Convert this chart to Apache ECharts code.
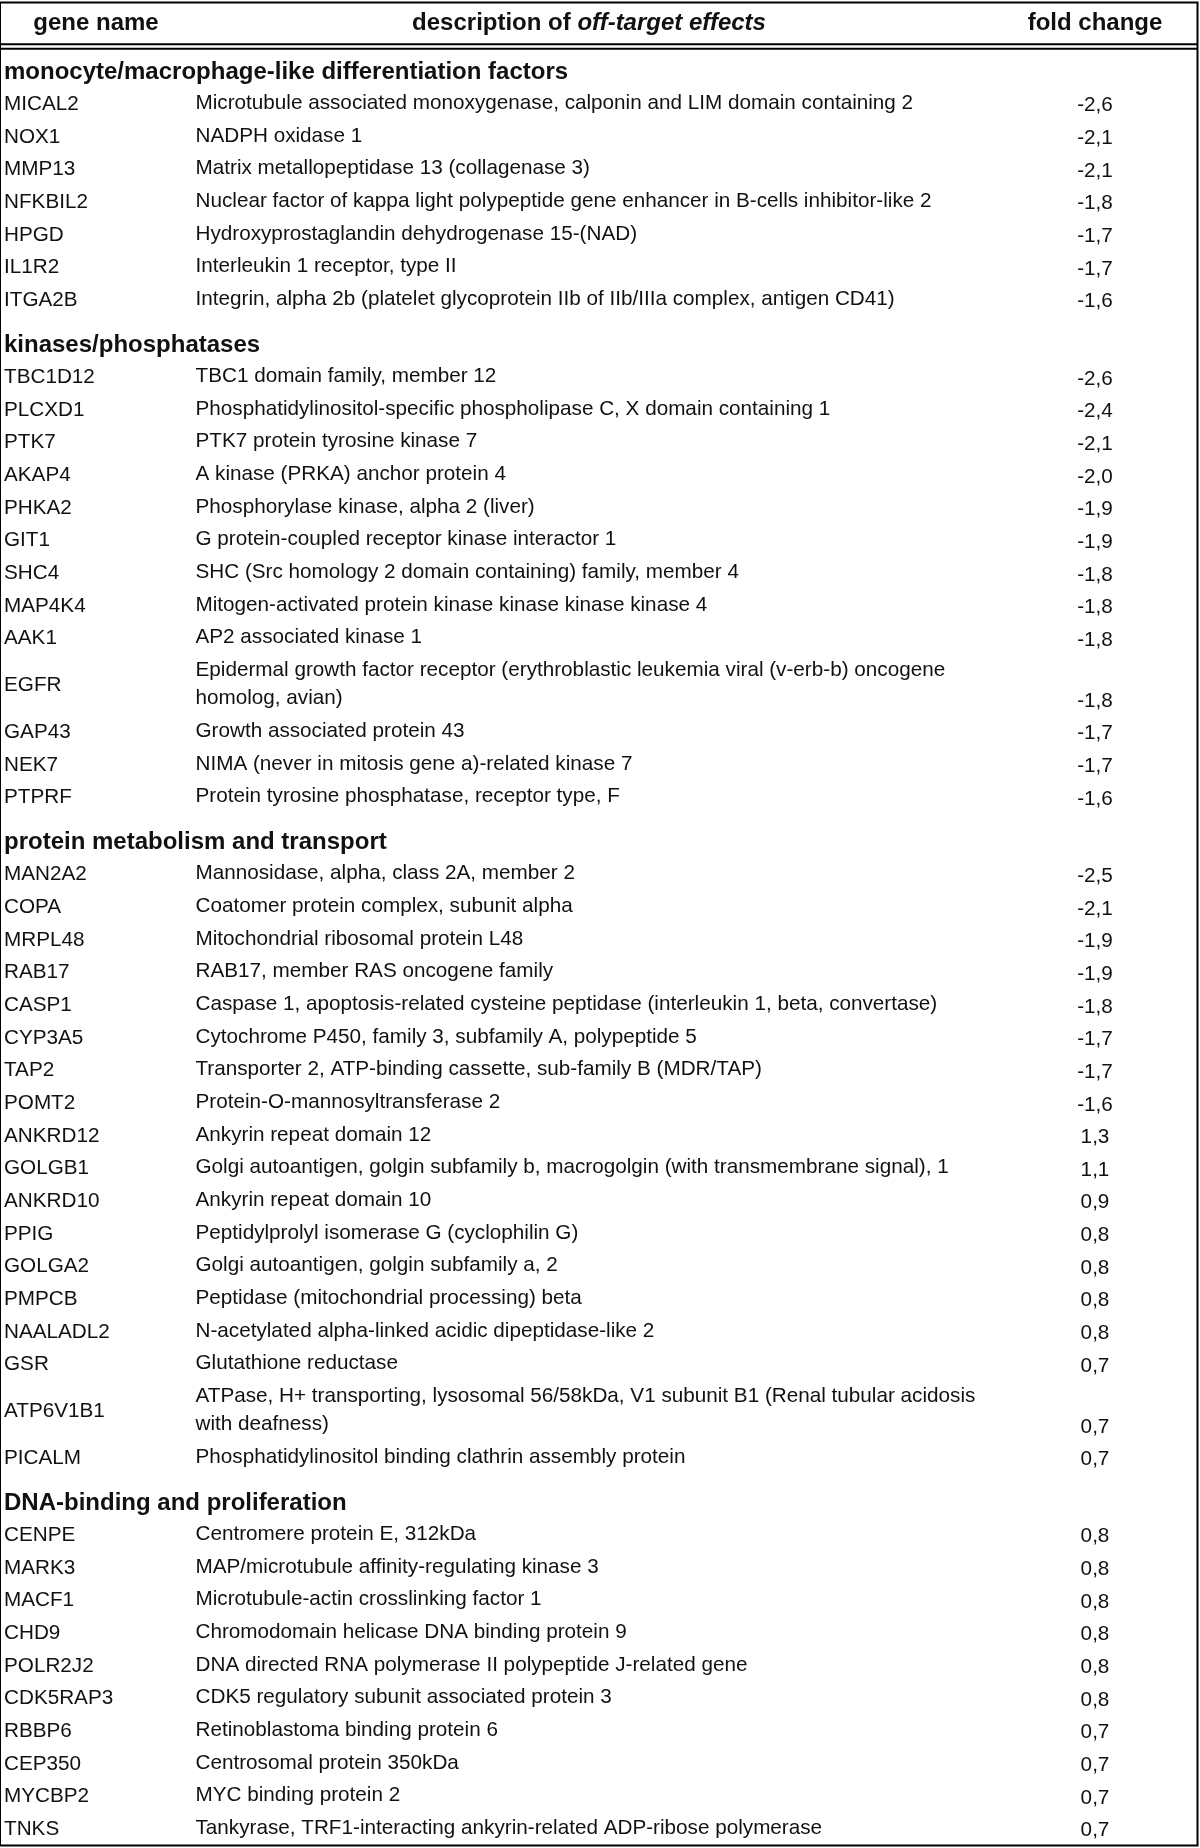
<!DOCTYPE html>
<html><head><meta charset="utf-8">
<script src="https://cdn.jsdelivr.net/npm/echarts@6/dist/echarts.min.js"></script>
<style>html,body{margin:0;padding:0;background:#fff}#c{width:1200px;height:1848px}</style>
</head><body><div id="c"></div>
<script>
// ---------------- data ----------------
const columnHeaders = ['gene name', 'description of ', 'off-target effects', 'fold change'];
const sectionTitles = [
  'monocyte/macrophage-like differentiation factors',
  'kinases/phosphatases',
  'protein metabolism and transport',
  'DNA-binding and proliferation'
];
const geneSection = [
  0,0,0,0,0,0,0,
  1,1,1,1,1,1,1,1,1,1,1,1,1,
  2,2,2,2,2,2,2,2,2,2,2,2,2,2,2,2,2,2,
  3,3,3,3,3,3,3,3,3,3
];
const genes = [
  'MICAL2','NOX1','MMP13','NFKBIL2','HPGD','IL1R2','ITGA2B',
  'TBC1D12','PLCXD1','PTK7','AKAP4','PHKA2','GIT1','SHC4','MAP4K4','AAK1','EGFR','GAP43','NEK7','PTPRF',
  'MAN2A2','COPA','MRPL48','RAB17','CASP1','CYP3A5','TAP2','POMT2','ANKRD12','GOLGB1','ANKRD10','PPIG','GOLGA2','PMPCB','NAALADL2','GSR','ATP6V1B1','PICALM',
  'CENPE','MARK3','MACF1','CHD9','POLR2J2','CDK5RAP3','RBBP6','CEP350','MYCBP2','TNKS'
];
const descriptions = [
  'Microtubule associated monoxygenase, calponin and LIM domain containing 2',
  'NADPH oxidase 1',
  'Matrix metallopeptidase 13 (collagenase 3)',
  'Nuclear factor of kappa light polypeptide gene enhancer in B-cells inhibitor-like 2',
  'Hydroxyprostaglandin dehydrogenase 15-(NAD)',
  'Interleukin 1 receptor, type II',
  'Integrin, alpha 2b (platelet glycoprotein IIb of IIb/IIIa complex, antigen CD41)',
  'TBC1 domain family, member 12',
  'Phosphatidylinositol-specific phospholipase C, X domain containing 1',
  'PTK7 protein tyrosine kinase 7',
  'A kinase (PRKA) anchor protein 4',
  'Phosphorylase kinase, alpha 2 (liver)',
  'G protein-coupled receptor kinase interactor 1',
  'SHC (Src homology 2 domain containing) family, member 4',
  'Mitogen-activated protein kinase kinase kinase kinase 4',
  'AP2 associated kinase 1',
  'Epidermal growth factor receptor (erythroblastic leukemia viral (v-erb-b) oncogene\nhomolog, avian)',
  'Growth associated protein 43',
  'NIMA (never in mitosis gene a)-related kinase 7',
  'Protein tyrosine phosphatase, receptor type, F',
  'Mannosidase, alpha, class 2A, member 2',
  'Coatomer protein complex, subunit alpha',
  'Mitochondrial ribosomal protein L48',
  'RAB17, member RAS oncogene family',
  'Caspase 1, apoptosis-related cysteine peptidase (interleukin 1, beta, convertase)',
  'Cytochrome P450, family 3, subfamily A, polypeptide 5',
  'Transporter 2, ATP-binding cassette, sub-family B (MDR/TAP)',
  'Protein-O-mannosyltransferase 2',
  'Ankyrin repeat domain 12',
  'Golgi autoantigen, golgin subfamily b, macrogolgin (with transmembrane signal), 1',
  'Ankyrin repeat domain 10',
  'Peptidylprolyl isomerase G (cyclophilin G)',
  'Golgi autoantigen, golgin subfamily a, 2',
  'Peptidase (mitochondrial processing) beta',
  'N-acetylated alpha-linked acidic dipeptidase-like 2',
  'Glutathione reductase',
  'ATPase, H+ transporting, lysosomal 56/58kDa, V1 subunit B1 (Renal tubular acidosis\nwith deafness)',
  'Phosphatidylinositol binding clathrin assembly protein',
  'Centromere protein E, 312kDa',
  'MAP/microtubule affinity-regulating kinase 3',
  'Microtubule-actin crosslinking factor 1',
  'Chromodomain helicase DNA binding protein 9',
  'DNA directed RNA polymerase II polypeptide J-related gene',
  'CDK5 regulatory subunit associated protein 3',
  'Retinoblastoma binding protein 6',
  'Centrosomal protein 350kDa',
  'MYC binding protein 2',
  'Tankyrase, TRF1-interacting ankyrin-related ADP-ribose polymerase'
];
const foldChanges = [
  -2.6,-2.1,-2.1,-1.8,-1.7,-1.7,-1.6,
  -2.6,-2.4,-2.1,-2.0,-1.9,-1.9,-1.8,-1.8,-1.8,-1.8,-1.7,-1.7,-1.6,
  -2.5,-2.1,-1.9,-1.9,-1.8,-1.7,-1.7,-1.6,1.3,1.1,0.9,0.8,0.8,0.8,0.8,0.7,0.7,0.7,
  0.8,0.8,0.8,0.8,0.8,0.8,0.7,0.7,0.7,0.7
];

// ---------------- layout ----------------
const INK = '#111';
const FAM = '"Liberation Sans", Arial, Helvetica, sans-serif';
const FS = 20.7, FS_B = 24;
const P = 32.66, L2 = 28.2, SEC_H = 44.5, SEC_OFF = 28.75;
const X_GENE = 4, X_DESC = 195.5, X_FOLD = 1095;
const HEADER_X = [96, 589, 1095], HEADER_Y = 23;
const RULES = [44.3, 48.7];
const X_MAX = 1197.5, Y_MIN = 2.5, Y_MAX = 1845.5;

const rows = [];
let yy = 43.45;
sectionTitles.forEach((t, s) => {
  rows.push({kind: 'section', text: t, top: yy, h: SEC_H});
  yy += SEC_H;
  genes.forEach((g, i) => {
    if (geneSection[i] !== s) return;
    const lines = descriptions[i].split('\n').length;
    const h = P + (lines - 1) * L2;
    rows.push({kind: 'gene', i: i, top: yy, h: h});
    yy += h;
  });
});
const fmt = v => v.toFixed(1).replace('.', ',');

function txt(x, y, text, extra) {
  return {type: 'text', x: x, y: y, style: Object.assign({
    text: text, fill: INK, fontFamily: FAM, fontSize: FS, align: 'left', verticalAlign: 'middle'
  }, extra || {})};
}

function renderRow(params, api) {
  const r = rows[params.dataIndex];
  if (r.kind === 'section') {
    const p = api.coord([X_GENE, r.top + SEC_OFF]);
    return txt(p[0], p[1], r.text, {fontSize: FS_B, fontWeight: 'bold'});
  }
  const g = api.coord([X_GENE, r.top + r.h / 2]);
  const d = api.coord([X_DESC, r.top + P / 2 - 1 - L2 / 2]);
  const f = api.coord([X_FOLD, r.top + r.h - P / 2 + 1.5]);
  return {type: 'group', children: [
    txt(g[0], g[1], genes[r.i]),
    txt(d[0], d[1], descriptions[r.i], {verticalAlign: 'top', lineHeight: L2}),
    txt(f[0], f[1], fmt(foldChanges[r.i]), {align: 'center'})
  ]};
}

function renderHeader(params, api) {
  const i = params.dataIndex;
  const p = api.coord([HEADER_X[i], HEADER_Y]);
  if (i === 1) {
    return {type: 'text', x: p[0], y: p[1], style: {
      text: '{b|' + columnHeaders[1] + '}{bi|' + columnHeaders[2] + '}',
      align: 'center', verticalAlign: 'middle',
      rich: {
        b: {fill: INK, fontFamily: FAM, fontSize: FS_B, fontWeight: 'bold'},
        bi: {fill: INK, fontFamily: FAM, fontSize: FS_B, fontWeight: 'bold', fontStyle: 'italic'}
      }
    }};
  }
  const label = i === 0 ? columnHeaders[0] : columnHeaders[3];
  return txt(p[0], p[1], label, {fontSize: FS_B, fontWeight: 'bold', align: 'center'});
}

function renderRule(params, api) {
  const y = RULES[params.dataIndex];
  const a = api.coord([0, y]), b = api.coord([X_MAX, y]);
  return {type: 'line', shape: {x1: a[0], y1: a[1], x2: b[0], y2: b[1]},
    style: {stroke: '#000', lineWidth: 2}};
}

const chart = echarts.init(document.getElementById('c'), null, {renderer: 'canvas'});
const hiddenAxis = {axisLine: {show: false}, axisTick: {show: false}, axisLabel: {show: false}, splitLine: {show: false}};
chart.setOption({
  animation: false,
  backgroundColor: '#fff',
  grid: {left: 0, right: 1200 - X_MAX, top: Y_MIN, bottom: 1848 - Y_MAX, show: true,
    borderColor: '#000', borderWidth: 2, backgroundColor: 'transparent'},
  xAxis: Object.assign({type: 'value', min: 0, max: X_MAX}, hiddenAxis),
  yAxis: Object.assign({type: 'value', min: Y_MIN, max: Y_MAX, inverse: true}, hiddenAxis),
  series: [
    {type: 'custom', clip: false, renderItem: renderRule, data: RULES.map(y => [0, y])},
    {type: 'custom', clip: false, renderItem: renderHeader, data: HEADER_X.map(x => [x, HEADER_Y])},
    {type: 'custom', clip: false, renderItem: renderRow, data: rows.map(r => [0, r.top])}
  ]
});
</script>
</body></html>
